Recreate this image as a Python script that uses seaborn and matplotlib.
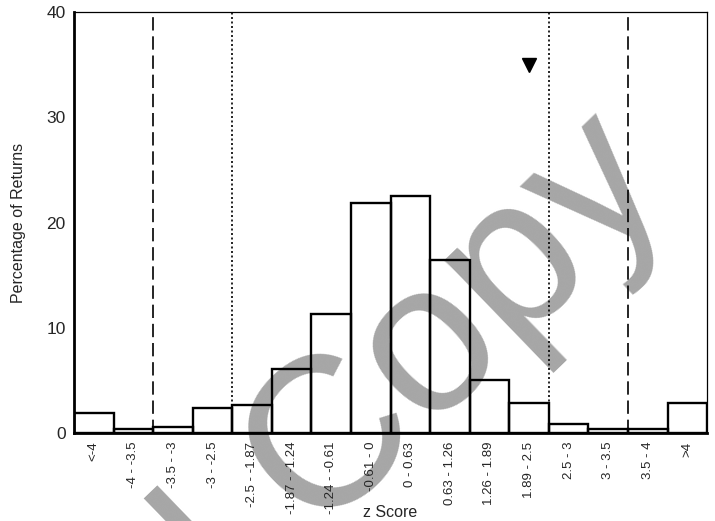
import matplotlib
matplotlib.use("Agg")
import matplotlib.pyplot as plt
import seaborn as sns
import pandas as pd

# categories of z score and share of returns (%)
categories = ['<-4', '-4 - -3.5', '-3.5 - -3', '-3 - -2.5', '-2.5 - -1.87',
              '-1.87 - -1.24', '-1.24 - -0.61', '-0.61 - 0', '0 - 0.63',
              '0.63 - 1.26', '1.26 - 1.89', '1.89 - 2.5', '2.5 - 3',
              '3 - 3.5', '3.5 - 4', '>4']
percentages = [1.9, 0.45, 0.65, 2.4, 2.7, 6.1, 11.3, 21.9, 22.5,
               16.5, 5.1, 2.85, 0.9, 0.4, 0.4, 2.85]

# reference lines (between categories) and marker
dashed_bounds = [1.5, 13.5]
dotted_bounds = [3.5, 11.5]
marker_cat = '1.89 - 2.5'
marker_val = 35

df = pd.DataFrame({'z': categories, 'pct': percentages})

sns.set_style("white")
plt.rcParams['font.family'] = ['Liberation Sans', 'DejaVu Sans']

fig = plt.figure(figsize=(7.15, 5.21), dpi=100)
ax = fig.add_axes([0.1035, 0.168, 0.8855, 0.809])
ax.patch.set_alpha(0)

sns.barplot(data=df, x='z', y='pct', color='white', edgecolor='black',
            linewidth=1.7, width=1.0, errorbar=None, ax=ax)
for p in ax.patches:
    p.set_facecolor('none')
    p.set_edgecolor('black')

for b in dashed_bounds:
    ax.axvline(b, color='black', linestyle=(0, (8, 3.5)), linewidth=1.2, zorder=3)
for b in dotted_bounds:
    ax.axvline(b, color='black', linestyle=(0, (1.2, 1.5)), linewidth=1.2, zorder=3)

ax.plot([categories.index(marker_cat)], [marker_val], marker='v',
        color='black', markersize=10, linestyle='none')

ax.set_xlim(-0.5, len(categories) - 0.5)
ax.set_ylim(0, 40)
ax.set_yticks([0, 10, 20, 30, 40])
ax.tick_params(axis='y', length=0, pad=6, labelsize=12.5)
ax.tick_params(axis='x', length=0, pad=6, labelsize=9.5, rotation=90)

ax.set_xlabel('z Score', fontsize=11.5)
ax.xaxis.set_label_coords(0.5, -0.17)
ax.set_ylabel('Percentage of Returns', fontsize=11.5)
ax.yaxis.set_label_coords(-0.088, 0.5)
ax.yaxis.label.set_verticalalignment('center')

for side in ['left', 'bottom']:
    ax.spines[side].set_linewidth(2)
for side in ['top', 'right']:
    ax.spines[side].set_linewidth(0.9)
for s in ax.spines.values():
    s.set_color('black')

# watermark (diagonal, behind the bars)
wm = dict(rotation=44, rotation_mode='anchor', fontsize=154,
          color='#a6a6a6', va='baseline', zorder=-1)
fig.text(0.4392, -0.023, 'Copy', ha='left', **wm)
fig.text(0.3793, -0.1023, 'Personal', ha='right', **wm)

fig.savefig('out.png', dpi=100)
